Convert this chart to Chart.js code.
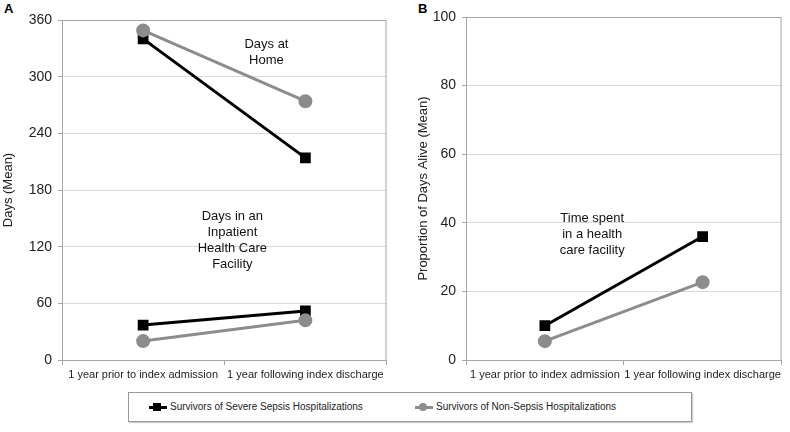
<!DOCTYPE html>
<html>
<head>
<meta charset="utf-8">
<script src="https://cdn.jsdelivr.net/npm/chart.js@4.4.1/dist/chart.umd.min.js"></script>
<style>
  body { margin: 0; background: #fff; font-family: "Liberation Sans", Arial, sans-serif; }
  #wrap { position: relative; width: 790px; height: 432px; }
  .panel { position: absolute; }
  .tag { position: absolute; font-weight: bold; font-size: 13px; color: #000; }
  #legend {
    position: absolute; left: 128px; top: 392px; width: 562px; height: 28px;
    border: 1px solid #999; box-shadow: 1px 1px 1px #ccc;
    font-size: 10px; color: #222;
  }
  .item { position: absolute; top: 8px; display: flex; align-items: center; }
  .mk { position: relative; width: 18px; height: 10px; margin-right: 3px; }
  .mk .ln { position: absolute; left: 0; right: 0; top: 4px; height: 3px; }
  .mk .pt { position: absolute; left: 4px; top: 1px; width: 8px; height: 8px; }
</style>
</head>
<body>
<div id="wrap">
  <div class="tag" style="left:4px;top:1px">A</div>
  <div class="tag" style="left:418px;top:1px">B</div>
  <div class="panel" style="left:0;top:0;width:395px;height:390px"><canvas id="chartA"></canvas></div>
  <div class="panel" style="left:400px;top:0;width:390px;height:390px"><canvas id="chartB"></canvas></div>
  <div id="legend">
    <div class="item" style="left:20px">
      <div class="mk"><div class="ln" style="background:#000"></div><div class="pt" style="background:#000"></div></div>
      <span id="legSepsis"></span>
    </div>
    <div class="item" style="left:286px">
      <div class="mk"><div class="ln" style="background:#8c8c8c"></div><div class="pt" style="background:#8c8c8c;border-radius:50%"></div></div>
      <span id="legNon"></span>
    </div>
  </div>
</div>
<script>
const categories = ["1 year prior to index admission", "1 year following index discharge"]
const seriesNames = ["Survivors of Severe Sepsis Hospitalizations", "Survivors of Non-Sepsis Hospitalizations"]

// Panel A: days (mean)
const sepsisHome = [340, 214]
const nonSepsisHome = [349, 274]
const sepsisInpatient = [37, 52]
const nonSepsisInpatient = [20, 42]
const ticksA = [0, 60, 120, 180, 240, 300, 360]

// Panel B: proportion of days alive (mean)
const sepsisFacility = [10, 36]
const nonSepsisFacility = [5.5, 22.7]
const ticksB = [0, 20, 40, 60, 80, 100]

const BLACK = "#000000"
const GRAY = "#8c8c8c"
const FONT = "'Liberation Sans', Arial, sans-serif"

document.getElementById("legSepsis").innerText = seriesNames[0]
document.getElementById("legNon").innerText = seriesNames[1]

const makeSet = (data, color, square) => ({
    data: data,
    borderColor: color,
    backgroundColor: color,
    borderWidth: 3,
    pointStyle: square ? "rect" : "circle",
    pointRadius: 5.5,
    pointHoverRadius: 5.5,
    tension: 0
})

// text notes inside the plot, placed through the scales
const notesPlugin = {
    id: "notes",
    afterDatasetsDraw(chart, args, opts) {
        const ctx = chart.ctx
        const x = chart.scales.x
        const y = chart.scales.y
        ctx.save()
        ctx.font = "13px " + FONT
        ctx.fillStyle = "#111"
        ctx.textAlign = "center"
        ctx.textBaseline = "middle"
        ;(opts.items || []).forEach(n => {
            const cx = x.getPixelForValue(0) + (x.getPixelForValue(1) - x.getPixelForValue(0)) * n.at
            const cy = y.getPixelForValue(n.value)
            const h = 16
            const top = cy - (n.lines.length - 1) * h / 2
            n.lines.forEach((t, i) => ctx.fillText(t, cx, top + i * h))
        })
        ctx.restore()
    }
}

// gray frame round the plot area
const framePlugin = {
    id: "frame",
    beforeDatasetsDraw(chart) {
        const a = chart.chartArea
        const ctx = chart.ctx
        ctx.save()
        ctx.strokeStyle = "#a6a6a6"
        ctx.lineWidth = 1
        ctx.strokeRect(a.left + 0.5, a.top + 0.5, a.right - a.left - 1, a.bottom - a.top)
        ctx.restore()
    }
}

const buildChart = (id, sets, ticks, yTitle, yWidth, titlePad, pad, notes) => {
    const ctx = document.getElementById(id).getContext("2d")
    return new Chart(ctx, {
        type: "line",
        data: { labels: categories, datasets: sets },
        plugins: [framePlugin, notesPlugin],
        options: {
            responsive: true,
            maintainAspectRatio: false,
            animation: false,
            layout: { padding: pad },
            plugins: {
                legend: { display: false },
                tooltip: { enabled: false },
                notes: { items: notes }
            },
            scales: {
                x: {
                    offset: true,
                    grid: { offset: true, drawOnChartArea: false, color: "#a6a6a6", tickLength: 5 },
                    border: { color: "#a6a6a6" },
                    ticks: { color: "#222", font: { size: 11, family: FONT }, maxRotation: 0, autoSkip: false, padding: 3 },
                    afterFit: s => { s.height = 30 }
                },
                y: {
                    min: ticks[0],
                    max: ticks[ticks.length - 1],
                    afterBuildTicks: s => { s.ticks = ticks.map(v => ({ value: v })) },
                    grid: { color: "#d9d9d9", tickLength: 4, tickColor: "#a6a6a6" },
                    border: { color: "#a6a6a6" },
                    ticks: { color: "#222", font: { size: 14, family: FONT }, padding: 6 },
                    title: { display: true, text: yTitle, color: "#222", font: { size: 13, family: FONT }, padding: { top: titlePad, bottom: 0 } },
                    afterFit: s => { s.width = yWidth }
                }
            }
        }
    })
}

buildChart("chartA", [
    makeSet(nonSepsisHome, GRAY, false),
    makeSet(sepsisHome, BLACK, true),
    makeSet(nonSepsisInpatient, GRAY, false),
    makeSet(sepsisInpatient, BLACK, true)
], ticksA, "Days (Mean)", 62, 1, { left: 0, right: 6, top: 20, bottom: 0 }, [
    { lines: ["Days at", "Home"], at: 0.76, value: 326 },
    { lines: ["Days in an", "Inpatient", "Health Care", "Facility"], at: 0.55, value: 127 }
])

buildChart("chartB", [
    makeSet(nonSepsisFacility, GRAY, false),
    makeSet(sepsisFacility, BLACK, true)
], ticksB, "Proportion of Days Alive (Mean)", 66, 16, { left: 0, right: 4, top: 17, bottom: 0 }, [
    { lines: ["Time spent", "in a health", "care facility"], at: 0.30, value: 36.7 }
])
</script>
</body>
</html>
